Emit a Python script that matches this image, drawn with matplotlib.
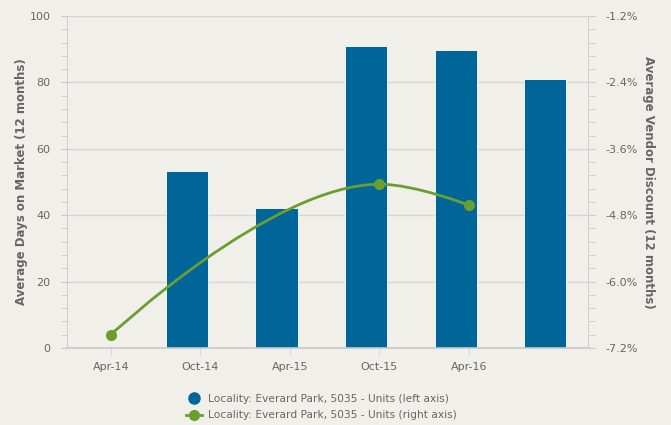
import numpy as np
import matplotlib
matplotlib.use("Agg")
import matplotlib.pyplot as plt
from matplotlib.path import Path
from matplotlib.patches import PathPatch
from matplotlib.lines import Line2D
from matplotlib.ticker import MultipleLocator, FuncFormatter

categories = ["Apr-14", "Oct-14", "Apr-15", "Oct-15", "Apr-16", ""]
days_on_market = [None, 53.2, 42.2, 91.0, 89.7, 81.0]
vendor_discount = [-6.96, None, None, -4.24, -4.62, None]

BG = "#f0efea"
BAR = "#006699"
GREEN = "#6a9e2f"
TXT = "#666666"
GRID = "#d6d6d6"

fig = plt.figure(figsize=(6.71, 4.25), dpi=100, facecolor=BG)
ax = fig.add_axes([67/671, 1-348/425, (589-67)/671, (348-16)/425])
ax.set_facecolor(BG)
ax2 = ax.twinx()

x = np.arange(len(categories))
bx = [xi - 0.15 for xi, v in zip(x, days_on_market) if v is not None]
bv = [v for v in days_on_market if v is not None]
ax.bar(bx, bv, width=0.47, color=BAR, edgecolor="white", linewidth=0.6, zorder=2)

ax.set_ylim(0, 100)
ax.set_xlim(-0.49, 5.34)
ax.yaxis.set_major_locator(MultipleLocator(20))
ax.yaxis.set_minor_locator(MultipleLocator(4))
ax.grid(axis="y", color=GRID, linewidth=1, zorder=0)
ax.set_axisbelow(True)
ax.set_xticks(x[:5])
ax.set_xticklabels(categories[:5])

ax2.set_ylim(-7.2, -1.2)
ax2.yaxis.set_major_locator(MultipleLocator(1.2))
ax2.yaxis.set_minor_locator(MultipleLocator(0.24))
ax2.yaxis.set_major_formatter(FuncFormatter(lambda v, p: f"{v:.1f}%"))

# Highcharts-style spline through the non-null points
pts = [(xi, v) for xi, v in zip(x, vendor_discount) if v is not None]
sm = 1.5
den = sm + 1
ctrl = []
for i, (px, py) in enumerate(pts):
    if 0 < i < len(pts) - 1:
        lx, ly = pts[i-1]
        nx, ny = pts[i+1]
        lcx = (sm*px + lx)/den; lcy = (sm*py + ly)/den
        rcx = (sm*px + nx)/den; rcy = (sm*py + ny)/den
        if rcx != lcx:
            corr = ((rcy - lcy)*(rcx - px))/(rcx - lcx) + py - rcy
            lcy += corr; rcy += corr
        if rcy > ly and rcy > py:
            rcy = max(ly, py); lcy = 2*py - rcy
        elif rcy < ly and rcy < py:
            rcy = min(ly, py); lcy = 2*py - rcy
        if lcy > ny and lcy > py:
            lcy = max(ny, py); rcy = 2*py - lcy
        elif lcy < ny and lcy < py:
            lcy = min(ny, py); rcy = 2*py - lcy
        ctrl.append(((lcx, lcy), (rcx, rcy)))
    else:
        ctrl.append(((px, py), (px, py)))
verts = [pts[0]]
codes = [Path.MOVETO]
for i in range(1, len(pts)):
    verts += [ctrl[i-1][1], ctrl[i][0], pts[i]]
    codes += [Path.CURVE4]*3
ax2.add_patch(PathPatch(Path(verts, codes), facecolor="none", edgecolor=GREEN, lw=2, zorder=3))
ax2.plot([p[0] for p in pts], [p[1] for p in pts], "o", color=GREEN, ms=7, zorder=4, clip_on=False)

for a in (ax, ax2):
    a.spines["top"].set_visible(False)
    a.spines["left"].set_visible(False)
    a.spines["right"].set_visible(False)
ax2.spines["bottom"].set_visible(False)
ax.spines["bottom"].set_color("#c8c8c8")
ax.spines["bottom"].set_linewidth(1.2)
ax.axvline(-0.49, color="#c8c8c8", lw=1.2, zorder=1)
ax.axvline(5.34, color="#c8c8c8", lw=1.2, zorder=1)

ax.tick_params(axis="y", which="major", length=4, color="#c8c8c8", labelcolor=TXT, labelsize=8, pad=8)
ax.tick_params(axis="y", which="minor", length=4, color="#c8c8c8")
ax.tick_params(axis="x", length=5, color="#ccd6eb", labelcolor=TXT, labelsize=8, pad=5)
ax2.tick_params(axis="y", which="major", length=4, color="#c8c8c8", labelcolor=TXT, labelsize=8, pad=8)
ax2.tick_params(axis="y", which="minor", length=4, color="#c8c8c8")

ax.set_ylabel("Average Days on Market (12 months)", color=TXT, fontsize=8.5, fontweight="bold")
ax.yaxis.set_label_coords(-(67-28)/522, 0.5)
ax2.set_ylabel("Average Vendor Discount (12 months)", color=TXT, fontsize=8.5, fontweight="bold", rotation=-90, va="center")
ax2.yaxis.set_label_coords(1 + (648-589)/522, 0.5)

handles = [
    Line2D([], [], marker="o", color=BAR, linestyle="none", ms=8),
    Line2D([], [], marker="o", color=GREEN, lw=2, ms=7),
]
labels = ["Locality: Everard Park, 5035 - Units (left axis)",
          "Locality: Everard Park, 5035 - Units (right axis)"]
fig.legend(handles, labels, loc="center", bbox_to_anchor=(0.5 - 14/671, 1-407/425), frameon=False,
           fontsize=7.7, labelcolor=TXT, handlelength=1.5, handletextpad=0.5, labelspacing=0.65)

fig.savefig("out.png", dpi=100, facecolor=BG)
